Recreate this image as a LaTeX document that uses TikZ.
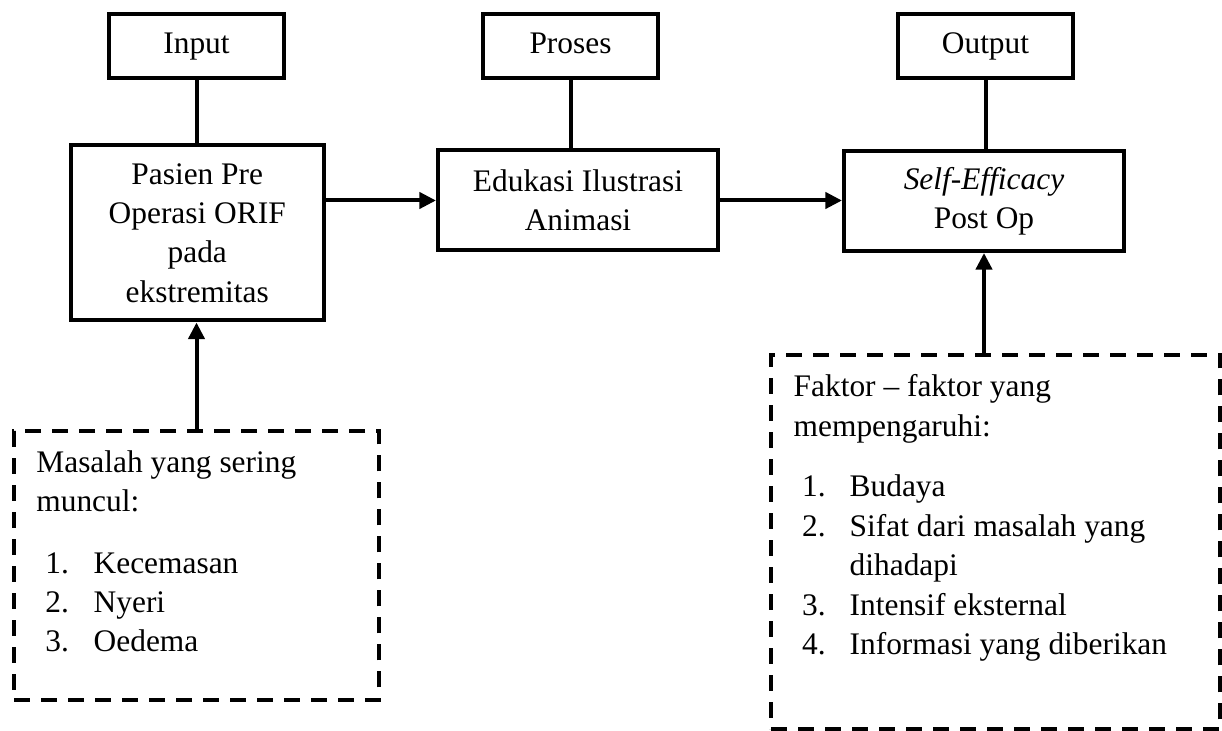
\documentclass[tikz,border=0pt]{standalone}
\usepackage{fontspec}
\setmainfont{Liberation Serif}
\usetikzlibrary{arrows.meta}
\begin{document}
\begin{tikzpicture}[x=0.5pt,y=-0.5pt,
  txt/.style={font=\fontsize{15.7}{19.7}\selectfont},
  solidbox/.style={draw, line width=2pt, inner sep=0pt, align=center, txt},
  topbox/.style={solidbox, minimum width=87.5pt, minimum height=32pt, text height=11pt, text depth=3.7pt},
  dashbox/.style={draw, line width=2pt, dash pattern=on 8pt off 5.5pt, inner sep=0pt},
  conn/.style={line width=2pt},
  arr/.style={line width=2pt, -{Triangle[length=8.3pt,width=8pt]}},
  lst/.style={txt, anchor=base west, inner sep=0pt}
]
\useasboundingbox (0,0) rectangle (1222,731);

% top boxes
\node[topbox] (input) at (196.5,46) {Input};
\node[topbox] (proses) at (570.5,46) {Proses};
\node[topbox] (output) at (985.5,46) {Output};

% middle boxes
\node[solidbox, minimum width=126.75pt, minimum height=87.5pt] (pasien) at (197.25,233) {Pasien Pre\\Operasi ORIF\\pada\\ekstremitas};
\node[solidbox, minimum width=140pt, minimum height=50pt] (edukasi) at (578,200.5) {Edukasi Ilustrasi\\Animasi};
\node[solidbox, minimum width=140pt, minimum height=50pt] (self) at (984,201) {\textit{Self-Efficacy}\\Post Op};

% dashed boxes
\node[dashbox, minimum width=182.5pt, minimum height=134.5pt] (masalah) at (196.5,565.8) {};
\node[dashbox, minimum width=224.5pt, minimum height=187.25pt] (faktor) at (995.5,542.25) {};

% connectors
\draw[conn] (input.south) -- (input.south |- pasien.north);
\draw[conn] (proses.south) -- (proses.south |- edukasi.north);
\draw[conn] (output.south) -- (output.south |- self.north);
\draw[arr] (pasien.east |- edukasi.west) -- (edukasi.west);
\draw[arr] (edukasi.east) -- (edukasi.east -| self.west);
\draw[arr] (masalah.north) -- (masalah.north |- pasien.south);
\draw[arr] (faktor.north -| self.south) -- (self.south);

% Masalah text
\node[lst] (m1) at (36,472.7) {Masalah yang sering};
\node[lst] (m2) at (36,511.7) {muncul:};
\node[lst] (m3) at (45,573.3) {\makebox[24.15pt][l]{1.}Kecemasan};
\node[lst] (m4) at (45,612.3) {\makebox[24.15pt][l]{2.}Nyeri};
\node[lst] (m5) at (45,651.7) {\makebox[24.15pt][l]{3.}Oedema};

% Faktor text
\node[lst] (f1) at (793.3,396.7) {Faktor – faktor yang};
\node[lst] (f2) at (793.3,436.7) {mempengaruhi:};
\node[lst] (f3) at (801.7,496.7) {\makebox[23.8pt][l]{1.}Budaya};
\node[lst] (f4) at (801.7,536.7) {\makebox[23.8pt][l]{2.}Sifat dari masalah yang};
\node[lst] (f5) at (849.3,576) {dihadapi};
\node[lst] (f6) at (801.7,616) {\makebox[23.8pt][l]{3.}Intensif eksternal};
\node[lst] (f7) at (801.7,655) {\makebox[23.8pt][l]{4.}Informasi yang diberikan};
\end{tikzpicture}
\end{document}
